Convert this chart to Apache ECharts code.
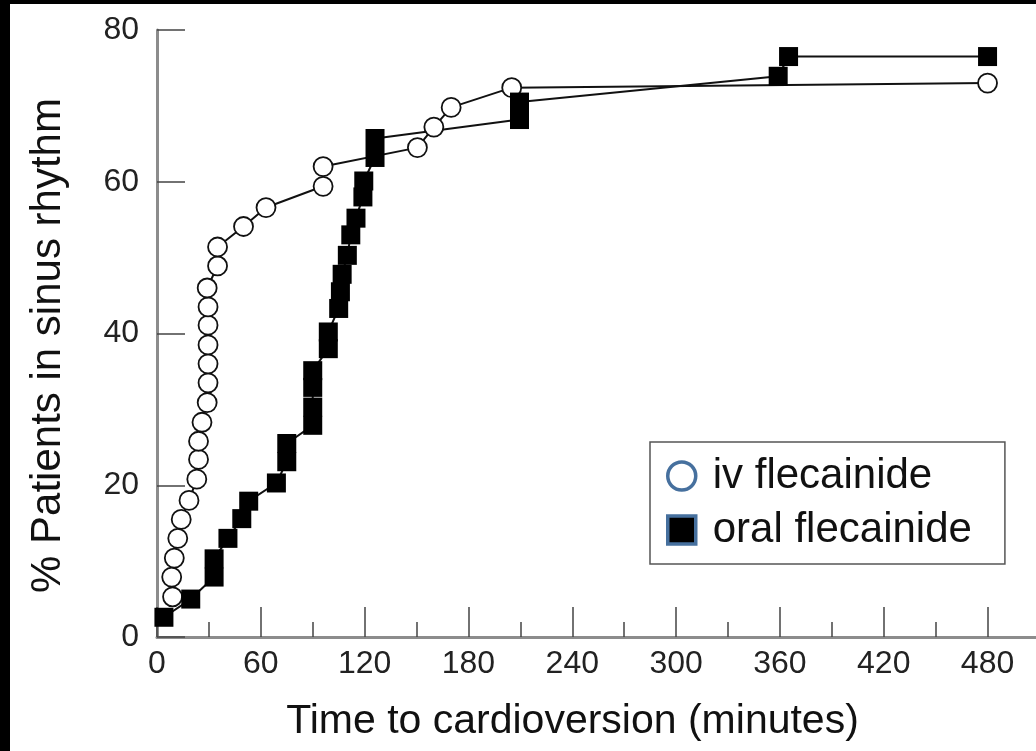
<!DOCTYPE html>
<html>
<head>
<meta charset="utf-8">
<script src="https://cdn.jsdelivr.net/npm/echarts@6/dist/echarts.min.js"></script>
<style>
    html, body { margin: 0; padding: 0; background: #000; }
    #chart { position: absolute; left: 10px; top: 4px; width: 1026px; height: 747px; background: #fff; }
</style>
</head>
<body>
<div id="chart"></div>
<script>
    // iv flecainide (open circles)
    var ivTime = [9, 8.5, 10, 12, 14, 18.5, 23, 24, 24, 26, 29, 29.5, 29.5, 29.5, 29.5, 29.5, 29, 35, 35, 50, 63, 96, 96, 150.5, 160, 170, 205, 480];
    var ivPct = [5.3, 7.9, 10.4, 13.0, 15.5, 18.0, 20.8, 23.4, 25.8, 28.3, 30.9, 33.5, 36.0, 38.5, 41.1, 43.5, 46.0, 48.9, 51.4, 54.1, 56.6, 59.4, 62.0, 64.5, 67.2, 69.8, 72.4, 73.0];
    // oral flecainide (filled squares)
    var oralTime = [4, 19.5, 33, 33, 41, 49, 53, 69, 75, 75, 90, 90, 90, 90, 99, 99, 105, 106, 107, 110, 112, 115, 119, 119.5, 126, 126, 209.5, 209.5, 359, 365, 480];
    var oralPct = [2.6, 5.0, 7.9, 10.3, 13.0, 15.6, 17.9, 20.3, 23.1, 25.5, 27.9, 30.3, 32.9, 35.1, 38.0, 40.2, 43.3, 45.5, 47.8, 50.3, 53.0, 55.2, 58.0, 60.1, 63.2, 65.7, 68.2, 70.5, 73.9, 76.5, 76.5];

    var majorTicks = [0, 60, 120, 180, 240, 300, 360, 420, 480];
    var minorTicks = [30, 90, 150, 210, 270, 330, 390, 450];

    function pairs(xs, ys) {
        return xs.map(function (x, i) { return [x, ys[i]]; });
    }

    var font = 'Liberation Sans, Arial, sans-serif';
    var axisGray = '#8c8c8c';
    var tickColor = '#444';

    var myChart = echarts.init(document.getElementById('chart'));
    var option = {
        animation: false,
        textStyle: { fontFamily: font },
        grid: { left: 147, top: 26, right: 0, bottom: 114 },
        legend: {
            left: 640,
            top: 438,
            orient: 'vertical',
            backgroundColor: '#fff',
            borderColor: '#555',
            borderWidth: 1.5,
            borderRadius: 0,
            padding: [12, 33, 12, 16],
            itemGap: 10,
            itemWidth: 28,
            itemHeight: 28,
            textStyle: { fontSize: 42, color: '#111', fontFamily: font, lineHeight: 44, padding: [0, 0, 0, 12] },
            data: [
                { name: 'iv flecainide', icon: 'circle', itemStyle: { color: '#fff', borderColor: '#46709e', borderWidth: 3.5 } },
                { name: 'oral flecainide', icon: 'rect', itemStyle: { color: '#000', borderColor: '#46709e', borderWidth: 3.5 } }
            ]
        },
        xAxis: [{
            type: 'value',
            min: 0,
            max: 508,
            interval: 60,
            name: 'Time to cardioversion (minutes)',
            nameLocation: 'middle',
            nameGap: 64,
            nameTextStyle: { fontSize: 41, color: '#111', fontFamily: font, padding: [0, 48, 0, 0] },
            axisLine: { show: true, onZero: false, lineStyle: { color: axisGray, width: 3 } },
            axisTick: { show: true, inside: true, length: 30, customValues: majorTicks, lineStyle: { color: tickColor, width: 1.5 } },
            axisLabel: { fontSize: 32, color: '#222', margin: 11, customValues: majorTicks },
            splitLine: { show: false }
        }, {
            type: 'value',
            min: 0,
            max: 508,
            position: 'bottom',
            axisLine: { show: false },
            axisTick: { show: true, inside: true, length: 15, customValues: minorTicks, lineStyle: { color: tickColor, width: 1.5 } },
            axisLabel: { show: false },
            splitLine: { show: false }
        }],
        yAxis: {
            type: 'value',
            min: 0,
            max: 80,
            interval: 20,
            name: '% Patients in sinus rhythm',
            nameLocation: 'middle',
            nameGap: 88,
            nameTextStyle: { fontSize: 42, color: '#111', fontFamily: font, padding: [0, 24, 0, 0] },
            axisLine: { show: true, lineStyle: { color: axisGray, width: 3 } },
            axisTick: { show: true, inside: true, length: 28, lineStyle: { color: tickColor, width: 1.5 } },
            axisLabel: { fontSize: 32, color: '#222', margin: 18 },
            splitLine: { show: false }
        },
        series: [{
            name: 'iv flecainide',
            type: 'line',
            data: pairs(ivTime, ivPct),
            symbol: 'circle',
            symbolSize: 19,
            showAllSymbol: true,
            lineStyle: { color: '#111', width: 2 },
            itemStyle: { color: '#fff', borderColor: '#111', borderWidth: 1.8 }
        }, {
            name: 'oral flecainide',
            type: 'line',
            data: pairs(oralTime, oralPct),
            symbol: 'rect',
            symbolSize: 19,
            showAllSymbol: true,
            lineStyle: { color: '#111', width: 2 },
            itemStyle: { color: '#000', borderWidth: 0 }
        }]
    };
    myChart.setOption(option);
</script>
</body>
</html>
